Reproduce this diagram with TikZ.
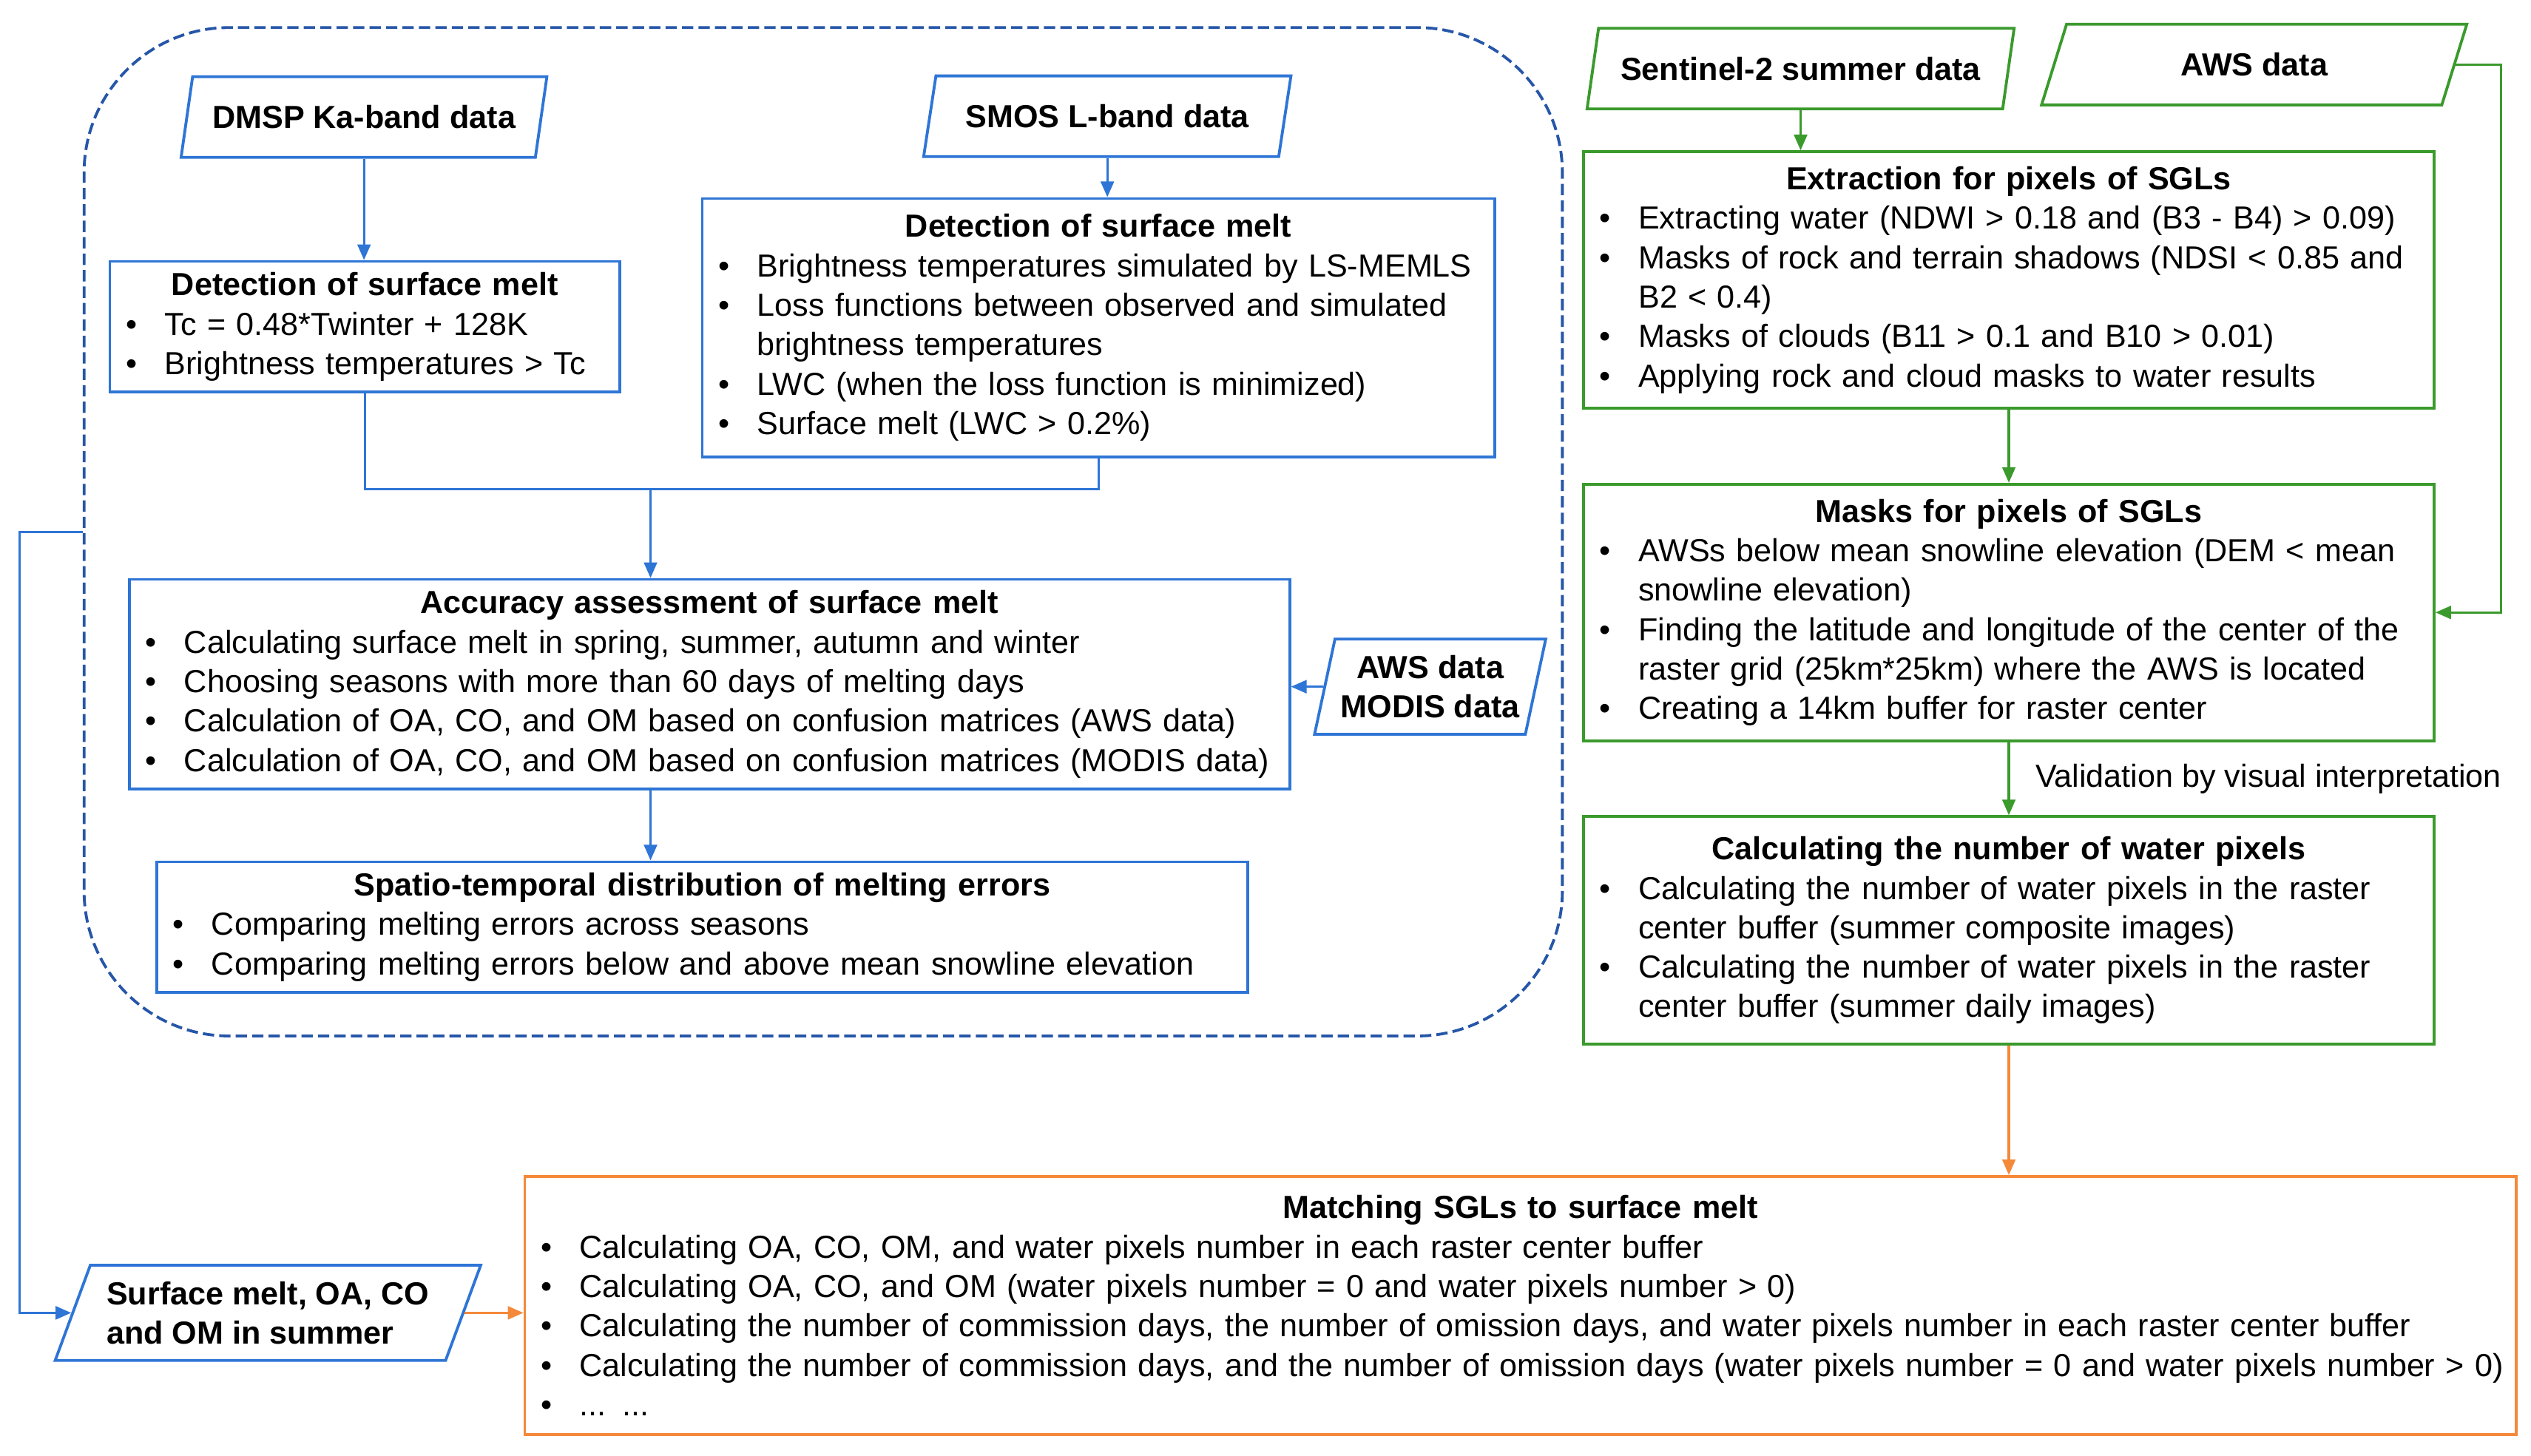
\documentclass[tikz,border=0pt]{standalone}
\usepackage{fontspec}
\setmainfont{Liberation Sans}
\usetikzlibrary{shapes.geometric,arrows.meta}

\definecolor{mblue}{RGB}{46,117,214}
\definecolor{dblue}{RGB}{38,86,168}
\definecolor{mgreen}{RGB}{58,154,44}
\definecolor{morange}{RGB}{245,137,58}

\newlength{\itmind}\setlength{\itmind}{0.68cm}
\newlength{\itmdot}\setlength{\itmdot}{0.2cm}
\newcommand{\itm}[1]{\par\noindent\hangindent=\itmind\hangafter=1\makebox[\itmind][l]{\hspace{\itmdot}\textbullet}#1\par}
\newcommand{\ttl}[1]{{\centering\bfseries #1\par}}

\begin{document}
\begin{tikzpicture}[x=0.02cm,y=-0.02cm,font=\fontsize{11.25}{13.9}\selectfont]
    \tikzstyle{box}=[draw, line width=1pt, inner xsep=0pt, inner ysep=2pt, align=left]
    \tikzstyle{bbox}=[box, draw=mblue]
    \tikzstyle{gbox}=[box, draw=mgreen]
    \tikzstyle{data}=[trapezium, trapezium left angle=76, trapezium right angle=104,
        trapezium stretches=true, draw, line width=1pt, inner xsep=2pt,
        font=\fontsize{11.25}{13.9}\selectfont\bfseries, minimum height=1cm]
    \tikzstyle{arr}=[-{Triangle[length=5.5pt,width=4.6pt]}, line width=0.8pt]

    \useasboundingbox (0,0) rectangle (1568,901.8);

    % dashed frame round the melt part
    \node[draw=dblue, line width=1pt, dash pattern=on 4pt off 1.8pt,
        rounded corners=1.8cm, minimum width=18.32cm, minimum height=12.5cm] (frame) at (510,329.5) {};

    \node[data, draw=mblue, minimum width=4.54cm] (dmsp) at (225.5,72.5) {DMSP Ka-band data};
    \node[data, draw=mblue, minimum width=4.56cm] (smos) at (686,72) {SMOS L-band data};

    \node[bbox, text width=6.32cm, minimum height=1.62cm] (detl) at (226,202.5) {\ttl{Detection of surface melt}
        \itm{Tc = 0.48*Twinter + 128K}
        \itm{Brightness temperatures > Tc}};
    \node[bbox, text width=9.82cm, minimum height=3.2cm] (detr) at (680.5,203) {\ttl{Detection of surface melt}
        \itm{Brightness temperatures simulated by LS-MEMLS}
        \itm{Loss functions between observed and simulated\newline brightness temperatures}
        \itm{LWC (when the loss function is minimized)}
        \itm{Surface melt (LWC > 0.2\%)}};

    \node[bbox, text width=14.38cm, minimum height=2.6cm] (acc) at (439.5,424) {\ttl{Accuracy assessment of surface melt}
        \itm{Calculating surface melt in spring, summer, autumn and winter}
        \itm{Choosing seasons with more than 60 days of melting days}
        \itm{Calculation of OA, CO, and OM based on confusion matrices (AWS data)}
        \itm{Calculation of OA, CO, and OM based on confusion matrices (MODIS data)}};
    \node[data, draw=mblue, align=center, minimum width=2.76cm, minimum height=1.18cm] (awsmod) at (886,425.5) {AWS data\\MODIS data};

    \node[bbox, text width=13.52cm, minimum height=1.62cm] (spat) at (435,574.5) {\ttl{Spatio-temporal distribution of melting errors}
        \itm{Comparing melting errors across seasons}
        \itm{Comparing melting errors below and above mean snowline elevation}};

    % lake part
    \node[data, draw=mgreen, minimum width=5.3cm] (sent) at (1115.5,42.5) {Sentinel-2 summer data};
    \node[data, draw=mgreen, minimum width=5.3cm] (awsg) at (1396.5,40) {AWS data};

    \node[gbox, text width=10.54cm, minimum height=3.18cm] (ext) at (1244.5,173.5) {\ttl{Extraction for pixels of SGLs}
        \itm{Extracting water (NDWI > 0.18 and (B3 - B4) > 0.09)}
        \itm{Masks of rock and terrain shadows (NDSI < 0.85 and\newline B2 < 0.4)}
        \itm{Masks of clouds (B11 > 0.1 and B10 > 0.01)}
        \itm{Applying rock and cloud masks to water results}};
    \node[gbox, text width=10.54cm, minimum height=3.18cm] (mask) at (1244.5,379.5) {\ttl{Masks for pixels of SGLs}
        \itm{AWSs below mean snowline elevation (DEM < mean\newline snowline elevation)}
        \itm{Finding the latitude and longitude of the center of the\newline raster grid (25km*25km) where the AWS is located}
        \itm{Creating a 14km buffer for raster center}};
    \node[gbox, text width=10.54cm, minimum height=2.82cm] (calc) at (1244.5,576.5) {\ttl{Calculating the number of water pixels}
        \itm{Calculating the number of water pixels in the raster\newline center buffer (summer composite images)}
        \itm{Calculating the number of water pixels in the raster\newline center buffer (summer daily images)}};

    \node[box, draw=morange, text width=24.68cm, minimum height=3.2cm] (match) at (942,809) {\ttl{Matching SGLs to surface melt}
        \itm{Calculating OA, CO, OM, and water pixels number in each raster center buffer}
        \itm{Calculating OA, CO, and OM (water pixels number = 0 and water pixels number > 0)}
        \itm{Calculating the number of commission days, the number of omission days, and water pixels number in each raster center buffer}
        \itm{Calculating the number of commission days, and the number of omission days (water pixels number = 0 and water pixels number > 0)}
        \itm{... ...}};
    \node[data, draw=mblue, trapezium left angle=68, trapezium right angle=112, align=left,
        minimum width=5.28cm, minimum height=1.18cm] (summ) at (166,813.5) {Surface melt, OA, CO\\and OM in summer};

    % connectors
    \draw[arr, mblue] (dmsp.south) -- (dmsp.south |- detl.north);
    \draw[arr, mblue] (smos.south) -- (smos.south |- detr.north);
    \coordinate (jn) at (403,303);
    \draw[mblue, line width=0.8pt] (detl.south) |- (jn) -| (detr.south);
    \draw[arr, mblue] (jn) -- (jn |- acc.north);
    \draw[arr, mblue] (jn |- acc.south) -- (jn |- spat.north);
    \draw[arr, mblue] (awsmod.west) -- (awsmod.west -| acc.east);

    \draw[arr, mgreen] (sent.center |- sent.south) -- (sent.center |- ext.north);
    \draw[arr, mgreen] (awsg.east) -- ++(28,0) |- (mask.east);
    \draw[arr, mgreen] (ext.south) -- (mask.north);
    \draw[arr, mgreen] (mask.south) -- node[right=0.2cm, text=black] {Validation by visual interpretation} (calc.north);

    \draw[arr, morange] (calc.south) -- (calc.south |- match.north);
    \draw[arr, mblue] (frame.west) -- ++(-39,0) |- (summ.west);
    \draw[arr, morange] (summ.east) -- (summ.east -| match.west);
\end{tikzpicture}
\end{document}
